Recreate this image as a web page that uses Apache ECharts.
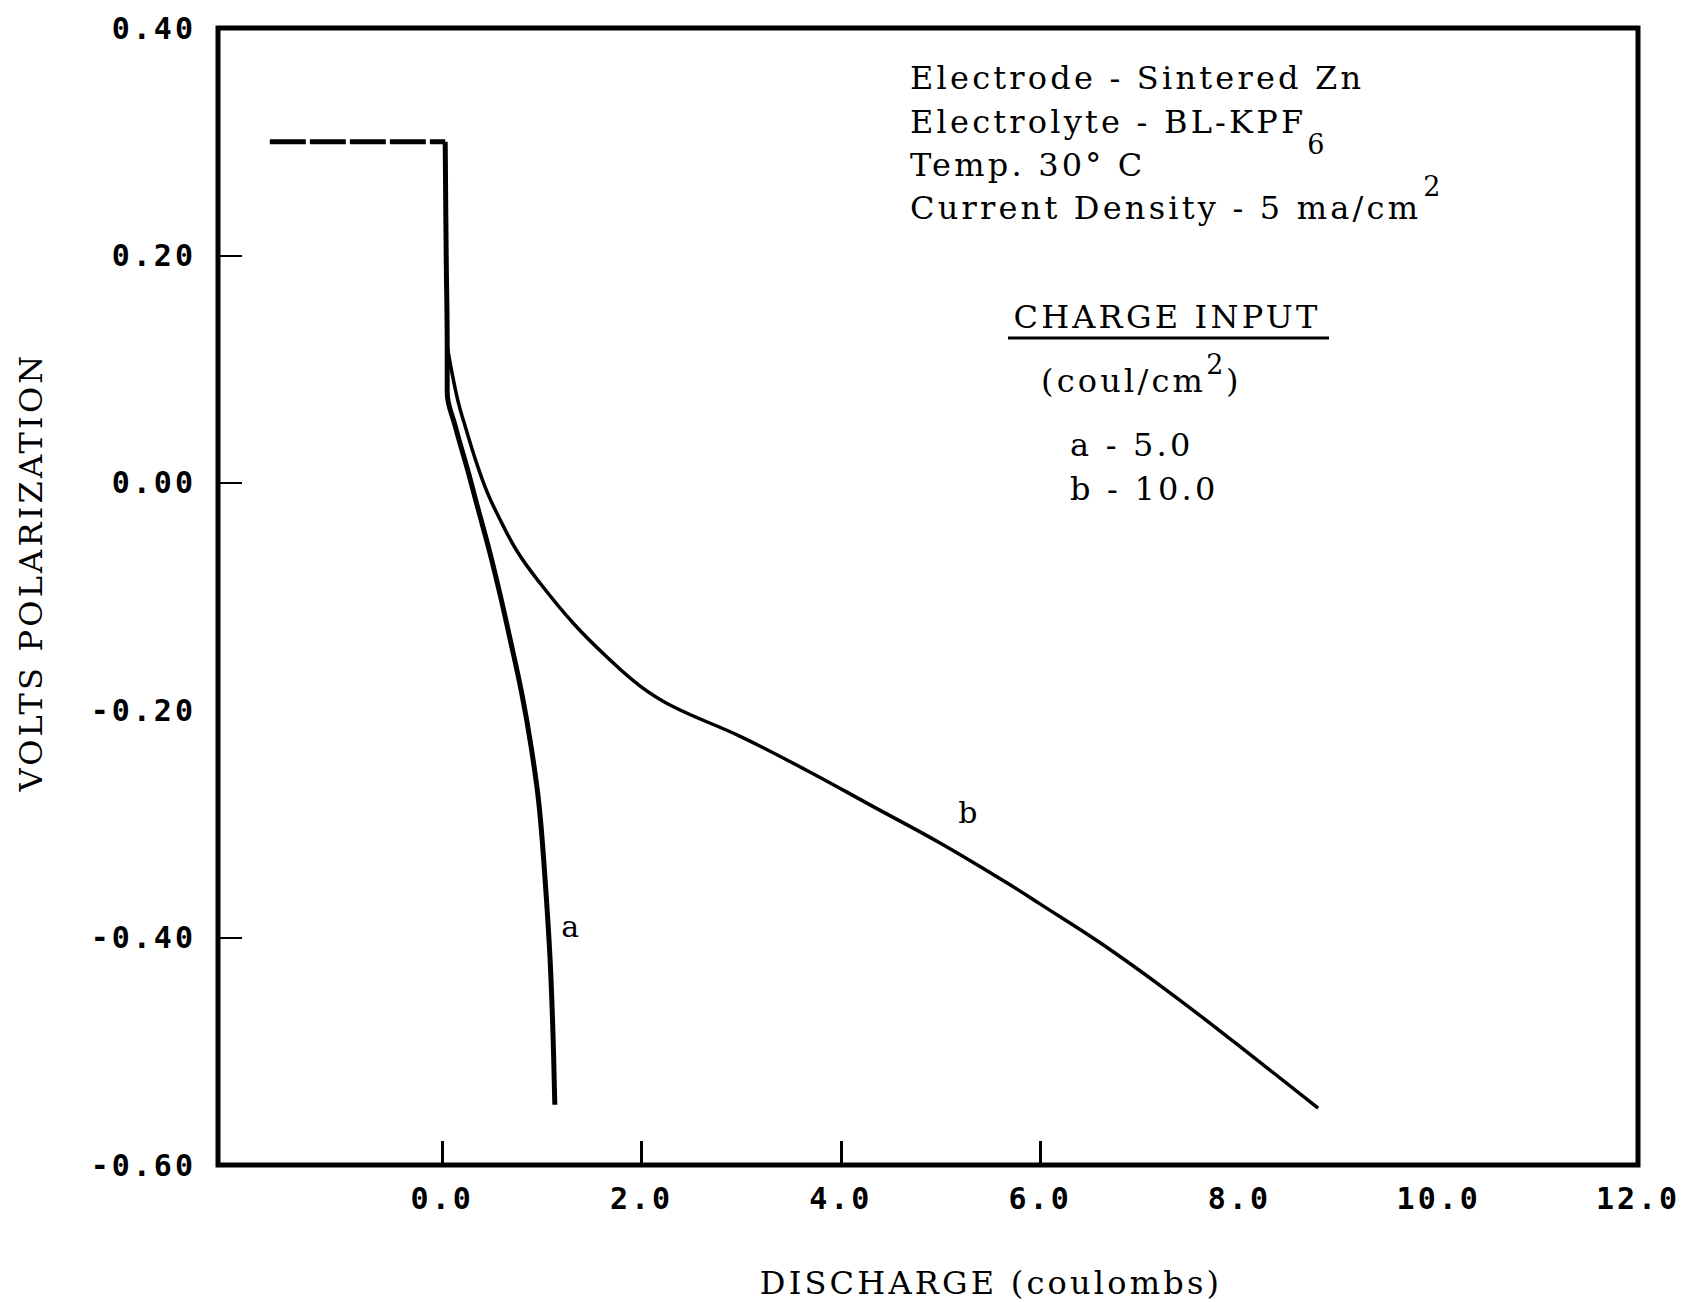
<!DOCTYPE html>
<html>
<head>
<meta charset="utf-8">
<title>Polarization - Sintered Zn</title>
<script src="https://cdn.jsdelivr.net/npm/echarts@6/dist/echarts.min.js"></script>
<style>
    html, body {margin: 0; padding: 0; background: #fff;}
    #chart {width: 1691px; height: 1302px;}
    #chart text {letter-spacing: 0.1em;}
</style>
</head>
<body>
<div id="chart"></div>
<script>
// open circuit part before discharge starts (dashed)
const openCircuit = [[-1.73, 0.30], [0.03, 0.30]];

// a - 5.0 coul/cm2
const curveA = [
    [0.03, 0.30], [0.04, 0.20], [0.05, 0.12], [0.05, 0.080], [0.13, 0.050],
    [0.25, 0.013], [0.36, -0.023], [0.48, -0.062], [0.58, -0.098], [0.68, -0.137],
    [0.80, -0.186], [0.89, -0.231], [0.97, -0.282], [1.03, -0.346], [1.08, -0.415],
    [1.11, -0.480], [1.13, -0.547]
];

// b - 10.0 coul/cm2
const curveB = [
    [0.05, 0.12], [0.15, 0.075], [0.25, 0.044], [0.35, 0.016], [0.45, -0.008],
    [0.55, -0.027], [0.75, -0.060], [0.98, -0.088], [1.32, -0.124], [1.65, -0.153],
    [1.99, -0.179], [2.32, -0.197], [2.99, -0.223], [3.66, -0.253], [4.33, -0.285],
    [5.00, -0.317], [5.67, -0.352], [6.01, -0.371], [6.61, -0.405], [7.28, -0.447],
    [7.95, -0.492], [8.79, -0.550]
];

const curveLabels = [
    {name: "a", value: [1.30, -0.39]},
    {name: "b", value: [5.29, -0.29]}
];

const xTicks = [0, 2, 4, 6];
const xLabels = [0, 2, 4, 6, 8, 10, 12];
const yTicks = [0.2, 0, -0.4];
const yLabels = [0.4, 0.2, 0, -0.2, -0.4, -0.6];

const notes = ["Electrode - Sintered Zn", "Electrolyte - BL-KPF", "Temp. 30° C", "Current Density - 5 ma/cm"];
const chargeInputs = ["a - 5.0", "b - 10.0"];

const SERIF = "DejaVu Serif";
const MONO = "DejaVu Sans Mono";
const SPACING = 0.1;

const chart = echarts.init(document.getElementById("chart"), null, {renderer: "svg"});

const measureCtx = document.createElement("canvas").getContext("2d");
function textWidth(text, size) {
    measureCtx.font = `${size}px "${SERIF}"`;
    return measureCtx.measureText(text).width + text.length * size * SPACING;
}

function textEl(text, x, y, size = 32, align = "left", rotation = 0) {
    return {
        type: "text",
        x, y, rotation,
        silent: true,
        style: {
            text,
            fontFamily: SERIF,
            fontSize: size,
            fill: "#000",
            align,
            verticalAlign: "middle",
            textAlign: align,
            textVerticalAlign: "middle"
        }
    };
}

const noteLeft = 910;
const noteRows = [78, 122, 165, 208];
const coulLeft = 1041;
const coulText = "(coul/cm";
const supX = coulLeft + textWidth(coulText, 32);

const graphics = [
    ...notes.map((text, i) => textEl(text, noteLeft, noteRows[i])),
    textEl("6", noteLeft + textWidth(notes[1], 32) + 1, 144, 27),
    textEl("2", noteLeft + textWidth(notes[3], 32) + 2, 186, 27),
    textEl("CHARGE INPUT", 1167, 317, 32, "center"),
    {
        type: "line",
        silent: true,
        shape: {x1: 1008, y1: 338, x2: 1329, y2: 338},
        style: {stroke: "#000", lineWidth: 3}
    },
    textEl(coulText, coulLeft, 381),
    textEl("2", supX, 364, 27),
    textEl(")", supX + textWidth("2", 27), 381),
    ...chargeInputs.map((text, i) => textEl(text, 1070, 445 + i * 44)),
    textEl("DISCHARGE (coulombs)", 991, 1283, 32, "center"),
    textEl("VOLTS POLARIZATION", 31, 572, 32, "center", Math.PI / 2)
];

chart.setOption({
    backgroundColor: "#fff",
    animation: false,
    grid: {
        left: 218, right: 53, top: 28, bottom: 137,
        show: true,
        borderColor: "#000",
        borderWidth: 5,
        outerBoundsMode: "none"
    },
    xAxis: {
        type: "value",
        min: -2.25,
        max: 12,
        axisLine: {show: false, onZero: false},
        splitLine: {show: false},
        axisTick: {
            show: true,
            inside: true,
            length: 24,
            customValues: xTicks,
            lineStyle: {color: "#000", width: 3}
        },
        axisLabel: {
            customValues: xLabels,
            formatter: v => v.toFixed(1),
            margin: 18,
            fontFamily: MONO,
            fontWeight: "bold",
            fontSize: 30,
            color: "#000"
        }
    },
    yAxis: {
        type: "value",
        min: -0.6,
        max: 0.4,
        axisLine: {show: false, onZero: false},
        splitLine: {show: false},
        axisTick: {
            show: true,
            inside: true,
            length: 24,
            customValues: yTicks,
            lineStyle: {color: "#000", width: 2}
        },
        axisLabel: {
            customValues: yLabels,
            formatter: v => v.toFixed(2),
            margin: 22,
            fontFamily: MONO,
            fontWeight: "bold",
            fontSize: 30,
            color: "#000"
        }
    },
    series: [
        {
            type: "line",
            data: openCircuit,
            showSymbol: false,
            silent: true,
            lineStyle: {color: "#000", width: 5, type: [36, 4]}
        },
        {
            name: "a",
            type: "line",
            data: curveA,
            smooth: 0.4,
            showSymbol: false,
            lineStyle: {color: "#000", width: 5}
        },
        {
            name: "b",
            type: "line",
            data: curveB,
            smooth: 0.4,
            showSymbol: false,
            lineStyle: {color: "#000", width: 3.5}
        },
        {
            type: "scatter",
            data: curveLabels,
            symbolSize: 0,
            silent: true,
            itemStyle: {color: "#000", opacity: 1},
            label: {
                show: true,
                position: "inside",
                formatter: p => p.name,
                fontFamily: SERIF,
                fontSize: 30,
                color: "#000",
                opacity: 1,
                textBorderWidth: 0
            }
        }
    ],
    graphic: graphics
});
</script>
</body>
</html>
